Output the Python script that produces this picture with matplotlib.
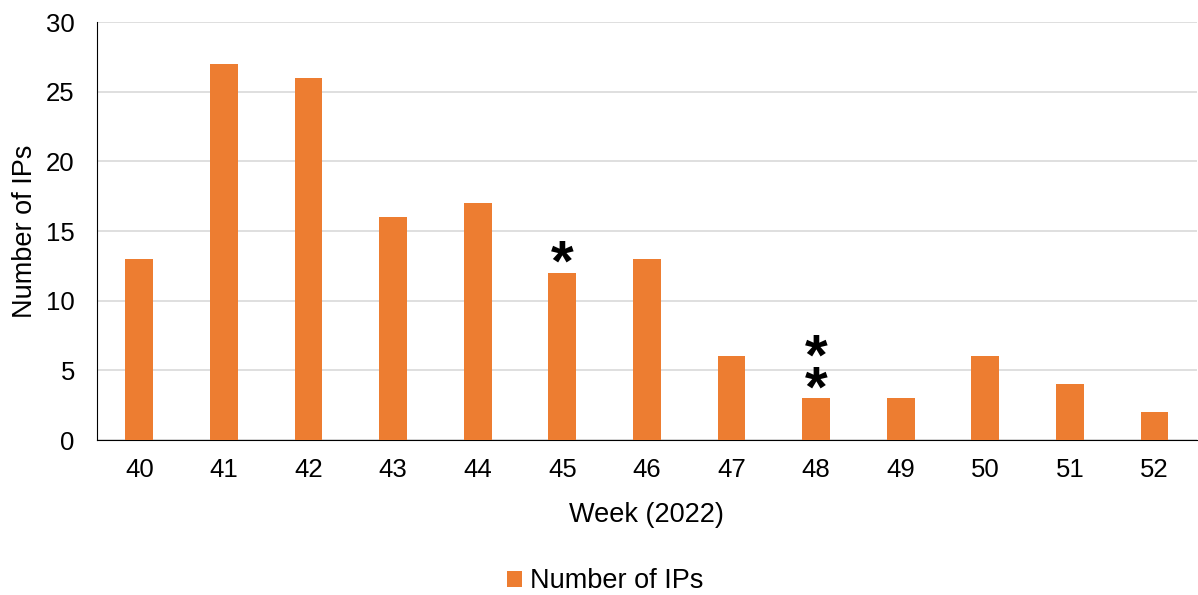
import matplotlib.pyplot as plt

plt.rcParams['font.family'] = ['Liberation Sans', 'DejaVu Sans']

# Data
weeks = ['40', '41', '42', '43', '44', '45', '46', '47', '48', '49', '50', '51', '52']
n_ips = [13, 27, 26, 16, 17, 12, 13, 6, 3, 3, 6, 4, 2]
n_stars = {'45': 1, '48': 2}

fig = plt.figure(figsize=(11.98, 5.95), dpi=100)
ax = fig.add_axes([0.081, 0.2605, 0.918, 0.7025])

x = range(len(weeks))
ax.bar(x, n_ips, width=0.33, color='#ED7D31', label='Number of IPs', zorder=3)

# asterisks above selected bars
for i, w in enumerate(weeks):
    if w in n_stars:
        ax.annotate('\n'.join(['*'] * n_stars[w]), (i, n_ips[i]), xytext=(0, -14.5),
                    textcoords='offset points', ha='center', va='bottom',
                    fontsize=42, fontweight='bold', linespacing=0.46)

ax.set_xlim(-0.5, len(weeks) - 0.5)
ax.set_ylim(0, 30)
ax.set_yticks(range(0, 31, 5))
ax.set_xticks(list(x))
ax.set_xticklabels(weeks)
ax.tick_params(length=0, labelsize=18.5)
ax.tick_params(axis='x', pad=13)
ax.tick_params(axis='y', pad=16)
ax.grid(axis='y', color='#d9d9d9', linewidth=1.2, zorder=0)
for s in ['top', 'right']:
    ax.spines[s].set_visible(False)
ax.spines['left'].set_color('black')
ax.spines['bottom'].set_color('black')

ax.set_xlabel('Week (2022)', fontsize=19.5, labelpad=14)
ax.set_ylabel('Number of IPs', fontsize=19.5, labelpad=6)

fig.legend(loc='center', bbox_to_anchor=(0.505, 0.023), frameon=False,
           fontsize=19.5, handlelength=0.55, handleheight=0.55, handletextpad=0.3)

fig.savefig('out.png', dpi=100)
